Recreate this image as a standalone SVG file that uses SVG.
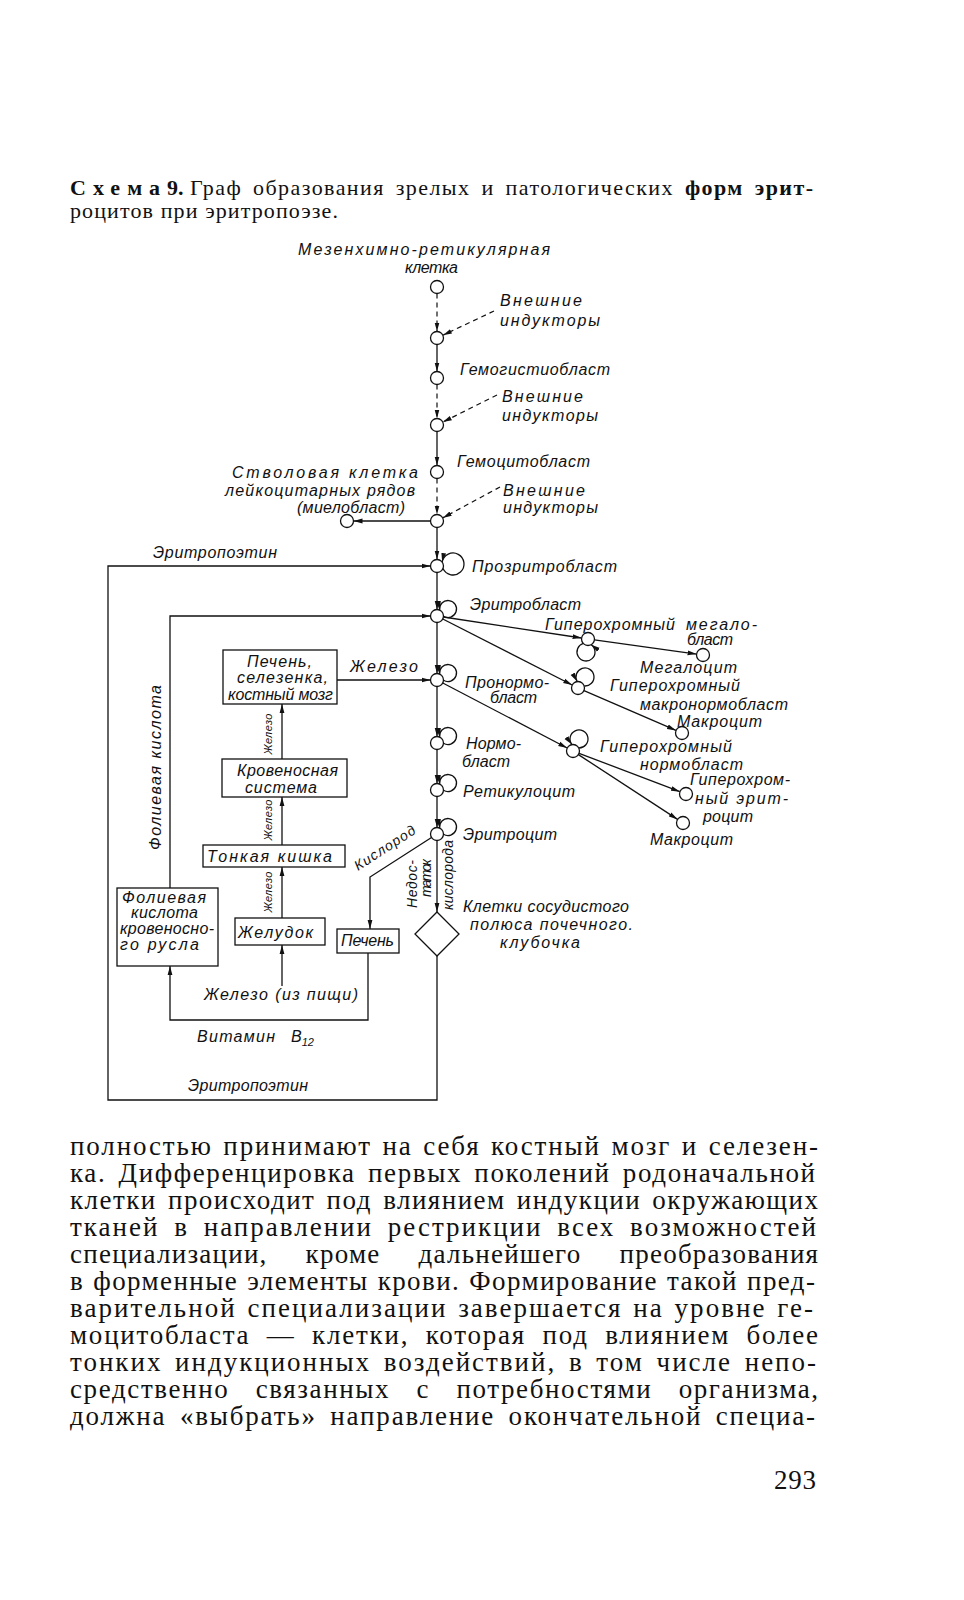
<svg xmlns="http://www.w3.org/2000/svg" width="964" height="1600" viewBox="0 0 964 1600">
<style>
.bg{fill:#ffffff}
.cap{font-family:"Liberation Serif","Times New Roman",serif;font-size:22px;fill:#111}
.body{font-family:"Liberation Serif","Times New Roman",serif;font-size:27px;fill:#111}
.lb{font-family:"Liberation Sans",Arial,sans-serif;font-style:italic;font-size:16px;fill:#111}
.sm{font-family:"Liberation Sans",Arial,sans-serif;font-style:italic;font-size:11px;fill:#111}
.rt{font-family:"Liberation Sans",Arial,sans-serif;font-style:italic;font-size:14px;fill:#111}
.nd{fill:#fff;stroke:#111;stroke-width:1.3}
.bx{fill:#fff;stroke:#111;stroke-width:1.3}
.ln{fill:none;stroke:#111;stroke-width:1.3}
.ar{fill:none;stroke:#111;stroke-width:1.3;marker-end:url(#ah)}
.da{fill:none;stroke:#111;stroke-width:1.2;stroke-dasharray:5 4;marker-end:url(#ah)}
</style>
<defs>
<marker id="ah" markerUnits="userSpaceOnUse" markerWidth="10" markerHeight="6" refX="9" refY="3" orient="auto">
<path d="M0,0.6 L9,3 L0,5.4 z" fill="#111"/>
</marker>
</defs>
<rect class="bg" x="0" y="0" width="964" height="1600"/>

<g id="caption">
<text class="cap" x="70" y="195" font-weight="bold" textLength="90" lengthAdjust="spacing">Схема</text>
<text class="cap" x="167" y="195" font-weight="bold">9.</text>
<text class="cap" x="190" y="195" word-spacing="4" textLength="623" lengthAdjust="spacing">Граф образования зрелых и патологических <tspan font-weight="bold">форм эрит-</tspan></text>
<text class="cap" x="70" y="218" textLength="268" lengthAdjust="spacing">роцитов при эритропоэзе.</text>
</g>

<g id="connectors">
<path class="da" d="M437,293.5 V331.5"/>
<path class="ar" d="M437,344.5 V371.5"/>
<path class="da" d="M437,384.5 V418.5"/>
<path class="ar" d="M437,431.5 V465.5"/>
<path class="da" d="M437,478.5 V514.5"/>
<path class="ar" d="M437,527.5 V559.5"/>
<path class="ar" d="M437,572.5 V609.5"/>
<path class="ar" d="M437,622.5 V673.5"/>
<path class="ar" d="M437,686.5 V736.5"/>
<path class="ar" d="M437,749.5 V783.5"/>
<path class="ar" d="M437,796.5 V827.5"/>
<path class="ar" d="M437,840.5 V912"/>
<path class="da" d="M494,311 L442.9,335.2"/>
<path class="da" d="M497,395 L442.8,422.1"/>
<path class="da" d="M500,487 L442.7,517.9"/>
<path class="ar" d="M430.5,521 H353.5"/>
<path class="ar" d="M442.99,568.55 A11,11 0 1 0 442.17,562.05"/>
<path class="ar" d="M443.49,616.21 A8.5,8.5 0 1 0 439.57,610.03"/>
<path class="ar" d="M443.49,680.21 A8.5,8.5 0 1 0 439.57,674.03"/>
<path class="ar" d="M443.49,743.21 A8.5,8.5 0 1 0 439.57,737.03"/>
<path class="ar" d="M443.49,790.21 A8.5,8.5 0 1 0 439.57,784.03"/>
<path class="ar" d="M443.49,834.21 A8.5,8.5 0 1 0 439.57,828.03"/>
<path class="ar" d="M443.4,617 L581.6,638"/>
<path class="ar" d="M583.24,643.43 A9,9 0 1 0 591.21,644.65"/>
<path class="ar" d="M594.4,639.9 L696.6,654.1"/>
<path class="ar" d="M442.8,619 L572.2,685"/>
<path class="ar" d="M584.18,685.96 A9,9 0 1 0 577.22,681.54"/>
<path class="ar" d="M584,690.6 L676,730.4"/>
<path class="ar" d="M442.8,683 L567.2,748"/>
<path class="ar" d="M578.76,747.99 A9,9 0 1 0 571.96,744.59"/>
<path class="ar" d="M579.1,753.3 L679.9,791.7"/>
<path class="ar" d="M578.4,754.6 L677.6,819.4"/>
<path class="ar" d="M437,956 V1100 H108 V566 H430.5"/>
<path class="ar" d="M170,888 V616 H430.5"/>
<path class="ar" d="M337,680 H430.5"/>
<path class="ar" d="M282,759 V704"/>
<path class="ar" d="M282,845 V797"/>
<path class="ar" d="M282,918 V867"/>
<path class="ar" d="M282,986 V945"/>
<path class="ar" d="M431.5,837.5 L370,877 V929"/>
<path class="ar" d="M368,953 V1020 H170 V966"/>
</g>

<g id="n-mesench">
<circle class="nd" cx="437" cy="287" r="6.5"/>
<text class="lb" x="298" y="255" textLength="252" lengthAdjust="spacing">Мезенхимно-ретикулярная</text>
<text class="lb" x="405" y="273" textLength="53" lengthAdjust="spacing">клетка</text>
</g>
<g id="n-2">
<circle class="nd" cx="437" cy="338" r="6.5"/>
<text class="lb" x="500" y="306" textLength="82" lengthAdjust="spacing">Внешние</text>
<text class="lb" x="500" y="326" textLength="100" lengthAdjust="spacing">индукторы</text>
</g>
<g id="n-hemohistio">
<circle class="nd" cx="437" cy="378" r="6.5"/>
<text class="lb" x="460" y="375" textLength="150" lengthAdjust="spacing">Гемогистиобласт</text>
</g>
<g id="n-4">
<circle class="nd" cx="437" cy="425" r="6.5"/>
<text class="lb" x="502" y="402" textLength="81" lengthAdjust="spacing">Внешние</text>
<text class="lb" x="502" y="421" textLength="96" lengthAdjust="spacing">индукторы</text>
</g>
<g id="n-hemocyto">
<circle class="nd" cx="437" cy="472" r="6.5"/>
<text class="lb" x="457" y="467" textLength="133" lengthAdjust="spacing">Гемоцитобласт</text>
</g>
<g id="n-6">
<circle class="nd" cx="437" cy="521" r="6.5"/>
<text class="lb" x="503" y="496" textLength="82" lengthAdjust="spacing">Внешние</text>
<text class="lb" x="503" y="513" textLength="95" lengthAdjust="spacing">индукторы</text>
</g>
<g id="n-myelo">
<circle class="nd" cx="347" cy="521" r="6.5"/>
<text class="lb" x="232" y="478" textLength="186" lengthAdjust="spacing">Стволовая клетка</text>
<text class="lb" x="225" y="496" textLength="190" lengthAdjust="spacing">лейкоцитарных рядов</text>
<text class="lb" x="297" y="513" textLength="108" lengthAdjust="spacing">(миелобласт)</text>
</g>
<g id="n-prozrit">
<circle class="nd" cx="437" cy="566" r="6.5"/>
<text class="lb" x="472" y="572" textLength="145" lengthAdjust="spacing">Прозритробласт</text>
</g>
<g id="n-eritroblast">
<circle class="nd" cx="437" cy="616" r="6.5"/>
<text class="lb" x="470" y="610" textLength="111" lengthAdjust="spacing">Эритробласт</text>
</g>
<g id="n-pronormo">
<circle class="nd" cx="437" cy="680" r="6.5"/>
<text class="lb" x="465" y="688" textLength="84" lengthAdjust="spacing">Пронормо-</text>
<text class="lb" x="490" y="703" textLength="47" lengthAdjust="spacing">бласт</text>
</g>
<g id="n-normo">
<circle class="nd" cx="437" cy="743" r="6.5"/>
<text class="lb" x="466" y="749" textLength="55" lengthAdjust="spacing">Нормо-</text>
<text class="lb" x="462" y="767" textLength="48" lengthAdjust="spacing">бласт</text>
</g>
<g id="n-retic">
<circle class="nd" cx="437" cy="790" r="6.5"/>
<text class="lb" x="463" y="797" textLength="112" lengthAdjust="spacing">Ретикулоцит</text>
</g>
<g id="n-eritrocyt">
<circle class="nd" cx="437" cy="834" r="6.5"/>
<text class="lb" x="463" y="840" textLength="94" lengthAdjust="spacing">Эритроцит</text>
</g>
<g id="n-megaloblast">
<circle class="nd" cx="588" cy="639" r="6.5"/>
<text class="lb" x="545" y="630" textLength="130" lengthAdjust="spacing">Гиперохромный</text>
<text class="lb" x="686" y="630" textLength="71" lengthAdjust="spacing">мегало-</text>
<text class="lb" x="687" y="645" textLength="46" lengthAdjust="spacing">бласт</text>
</g>
<g id="n-megalocyt">
<circle class="nd" cx="703" cy="655" r="6.5"/>
<text class="lb" x="640" y="673" textLength="97" lengthAdjust="spacing">Мегалоцит</text>
</g>
<g id="n-macronormo">
<circle class="nd" cx="578" cy="688" r="6.5"/>
<text class="lb" x="610" y="691" textLength="130" lengthAdjust="spacing">Гиперохромный</text>
<text class="lb" x="640" y="710" textLength="148" lengthAdjust="spacing">макронормобласт</text>
</g>
<g id="n-macrocyt1">
<circle class="nd" cx="682" cy="733" r="6.5"/>
<text class="lb" x="677" y="727" textLength="85" lengthAdjust="spacing">Макроцит</text>
</g>
<g id="n-hypernormo">
<circle class="nd" cx="573" cy="751" r="6.5"/>
<text class="lb" x="600" y="752" textLength="132" lengthAdjust="spacing">Гиперохромный</text>
<text class="lb" x="640" y="770" textLength="103" lengthAdjust="spacing">нормобласт</text>
</g>
<g id="n-hypereri">
<circle class="nd" cx="686" cy="794" r="6.5"/>
<text class="lb" x="690" y="785" textLength="100" lengthAdjust="spacing">Гиперохром-</text>
<text class="lb" x="695" y="804" textLength="93" lengthAdjust="spacing">ный эрит-</text>
<text class="lb" x="703" y="822" textLength="50" lengthAdjust="spacing">роцит</text>
</g>
<g id="n-macrocyt2">
<circle class="nd" cx="683" cy="823" r="6.5"/>
<text class="lb" x="650" y="845" textLength="83" lengthAdjust="spacing">Макроцит</text>
</g>
<g id="n-kidney">
<polygon class="bx" points="437,912 459,934 437,956 415,934"/>
<text class="lb" x="463" y="912" textLength="166" lengthAdjust="spacing">Клетки сосудистого</text>
<text class="lb" x="470" y="930" textLength="163" lengthAdjust="spacing">полюса почечного.</text>
<text class="lb" x="500" y="948" textLength="80" lengthAdjust="spacing">клубочка</text>
</g>
<g id="b-liver-spleen">
<rect class="bx" x="223" y="650" width="114" height="54"/>
<text class="lb" x="247" y="667" textLength="65" lengthAdjust="spacing">Печень,</text>
<text class="lb" x="237" y="683" textLength="91" lengthAdjust="spacing">селезенка,</text>
<text class="lb" x="228" y="700" textLength="105" lengthAdjust="spacing">костный мозг</text>
</g>
<g id="b-blood">
<rect class="bx" x="222" y="759" width="125" height="38"/>
<text class="lb" x="237" y="776" textLength="101" lengthAdjust="spacing">Кровеносная</text>
<text class="lb" x="245" y="793" textLength="72" lengthAdjust="spacing">система</text>
</g>
<g id="b-intestine">
<rect class="bx" x="203" y="845" width="142" height="22"/>
<text class="lb" x="207" y="862" textLength="125" lengthAdjust="spacing">Тонкая кишка</text>
</g>
<g id="b-stomach">
<rect class="bx" x="235" y="918" width="90" height="27"/>
<text class="lb" x="238" y="938" textLength="75" lengthAdjust="spacing">Желудок</text>
</g>
<g id="b-folic">
<rect class="bx" x="117" y="888" width="101" height="78"/>
<text class="lb" x="122" y="903" textLength="84" lengthAdjust="spacing">Фолиевая</text>
<text class="lb" x="131" y="918" textLength="67" lengthAdjust="spacing">кислота</text>
<text class="lb" x="120" y="934" textLength="94" lengthAdjust="spacing">кровеносно-</text>
<text class="lb" x="120" y="950" textLength="79" lengthAdjust="spacing">го русла</text>
</g>
<g id="b-liver">
<rect class="bx" x="337" y="929" width="62" height="24"/>
<text class="lb" x="341" y="946" font-size="15" textLength="53" lengthAdjust="spacing">Печень</text>
</g>

<g id="edge-labels">
<text class="lb" x="153" y="558" textLength="124" lengthAdjust="spacing">Эритропоэтин</text>
<text class="lb" x="188" y="1091" textLength="120" lengthAdjust="spacing">Эритропоэтин</text>
<text class="lb" x="350" y="672" textLength="68" lengthAdjust="spacing">Железо</text>
<text class="lb" transform="translate(161,850) rotate(-90)" x="0" y="0" font-size="17" textLength="165" lengthAdjust="spacing">Фолиевая кислота</text>
<text class="sm" transform="translate(272,734) rotate(-90)" x="0" y="0" text-anchor="middle" textLength="41" lengthAdjust="spacing">Железо</text>
<text class="sm" transform="translate(272,820) rotate(-90)" x="0" y="0" text-anchor="middle" textLength="41" lengthAdjust="spacing">Железо</text>
<text class="sm" transform="translate(272,892) rotate(-90)" x="0" y="0" text-anchor="middle" textLength="41" lengthAdjust="spacing">Железо</text>
<text class="lb" x="204" y="1000" textLength="154" lengthAdjust="spacing">Железо (из пищи)</text>
<text class="lb" x="197" y="1042" textLength="78" lengthAdjust="spacing">Витамин</text>
<text class="lb" x="291" y="1042">B<tspan font-size="11" dy="4">12</tspan></text>
<text class="rt" font-size="15" transform="translate(358,871) rotate(-33)" x="0" y="0" textLength="70" lengthAdjust="spacing">Кислород</text>
<text class="rt" transform="translate(417,908) rotate(-90)" x="0" y="0" textLength="48" lengthAdjust="spacing">Недос-</text>
<text class="rt" transform="translate(431,897) rotate(-90)" x="0" y="0" textLength="38" lengthAdjust="spacing">таток</text>
<text class="rt" transform="translate(453,910) rotate(-90)" x="0" y="0" textLength="70" lengthAdjust="spacing">кислорода</text>
</g>

<g id="body-text">
<text class="body" x="70" y="1155" word-spacing="2" textLength="748" lengthAdjust="spacing">полностью принимают на себя костный мозг и селезен-</text>
<text class="body" x="70" y="1182" word-spacing="4" textLength="745" lengthAdjust="spacing">ка. Дифференцировка первых поколений родоначальной</text>
<text class="body" x="70" y="1209" word-spacing="3" textLength="748" lengthAdjust="spacing">клетки происходит под влиянием индукции окружающих</text>
<text class="body" x="70" y="1236" word-spacing="6" textLength="746" lengthAdjust="spacing">тканей в направлении рестрикции всех возможностей</text>
<text class="body" x="70" y="1263" word-spacing="30" textLength="748" lengthAdjust="spacing">специализации, кроме дальнейшего преобразования</text>
<text class="body" x="70" y="1290" word-spacing="1" textLength="745" lengthAdjust="spacing">в форменные элементы крови. Формирование такой пред-</text>
<text class="body" x="70" y="1317" word-spacing="2" textLength="743" lengthAdjust="spacing">варительной специализации завершается на уровне ге-</text>
<text class="body" x="70" y="1344" word-spacing="8" textLength="748" lengthAdjust="spacing">моцитобласта — клетки, которая под влиянием более</text>
<text class="body" x="70" y="1371" word-spacing="4" textLength="746" lengthAdjust="spacing">тонких индукционных воздействий, в том числе непо-</text>
<text class="body" x="70" y="1398" word-spacing="18" textLength="748" lengthAdjust="spacing">средственно связанных с потребностями организма,</text>
<text class="body" x="70" y="1425" word-spacing="5" textLength="745" lengthAdjust="spacing">должна «выбрать» направление окончательной специа-</text>
<text class="body" x="774" y="1489" textLength="42" lengthAdjust="spacing">293</text>
</g>
</svg>
